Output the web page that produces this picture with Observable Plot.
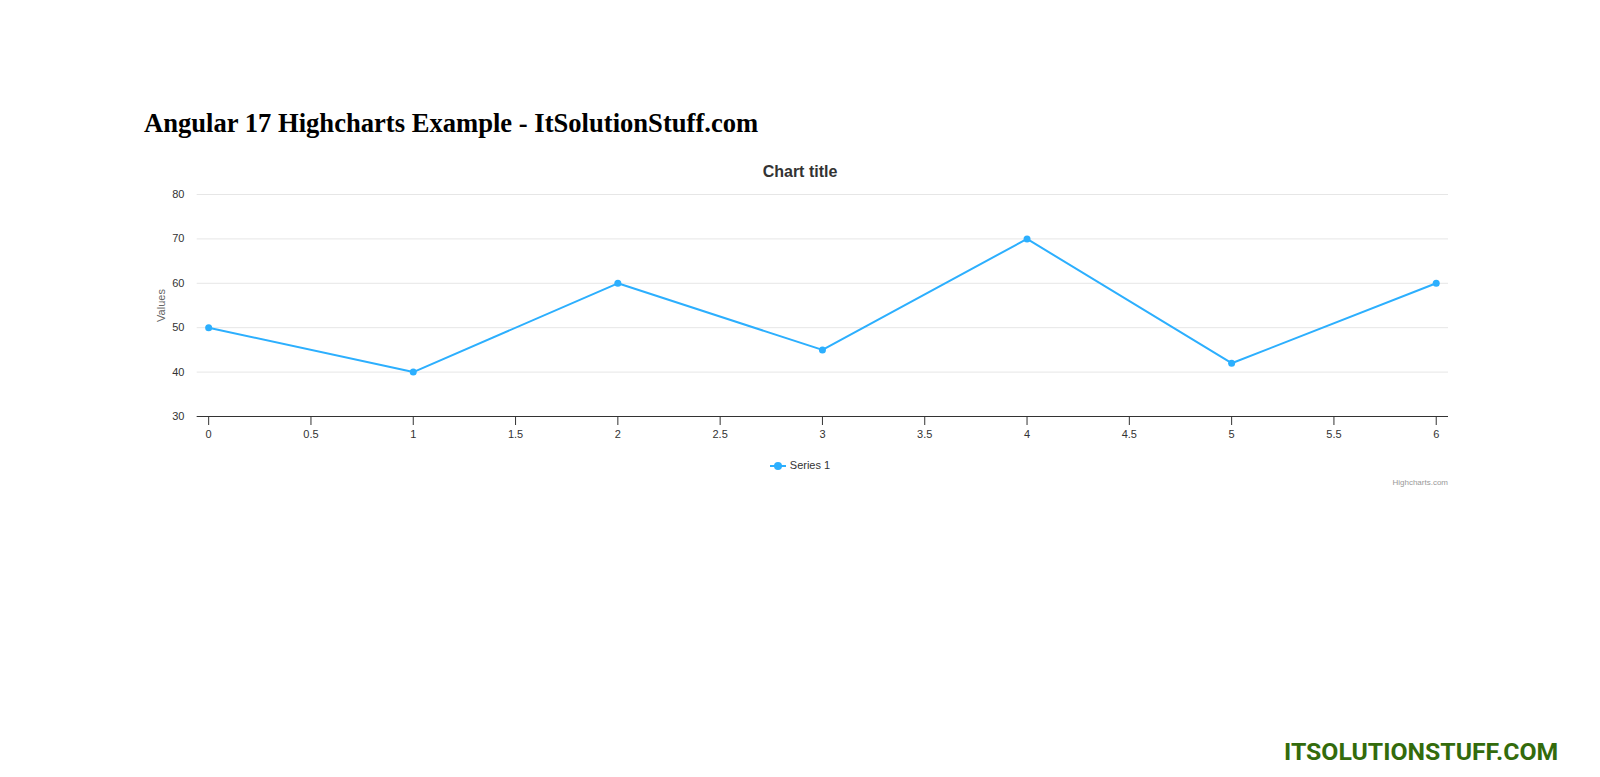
<!DOCTYPE html>
<html>
<head>
<meta charset="utf-8">
<script src="https://cdn.jsdelivr.net/npm/d3@7"></script>
<script src="https://cdn.jsdelivr.net/npm/@observablehq/plot@0.6"></script>
<style>
  html, body { margin: 0; padding: 0; background: #fff; width: 1600px; height: 777px; overflow: hidden; position: relative; }
  #heading { position: absolute; left: 144px; top: 108px; margin: 0; font-family: "Liberation Serif", "Times New Roman", serif; font-weight: bold; font-size: 26.6px; color: #000; white-space: nowrap; }
  #ctitle { position: absolute; left: 144px; width: 1312px; top: 163px; text-align: center; font-family: "Liberation Sans", Arial, Helvetica, sans-serif; font-weight: bold; font-size: 16px; color: #333333; }
  #chart { position: absolute; left: 144px; top: 184px; }
  #legend { position: absolute; left: 144px; width: 1312px; top: 459px; text-align: center; font-family: "Liberation Sans", Arial, sans-serif; font-size: 11px; color: #333333; }
  #legend svg { vertical-align: middle; margin-right: 4px; }
  #credits { position: absolute; right: 152px; top: 478px; font-family: "Liberation Sans", Arial, sans-serif; font-size: 8px; color: #999999; }
  #footer { position: absolute; left: 1284px; top: 737px; font-family: Roboto, sans-serif; font-weight: bold; font-size: 24.8px; color: #336b0c; white-space: nowrap; }
</style>
</head>
<body>
<h2 id="heading">Angular 17 Highcharts Example - ItSolutionStuff.com</h2>
<div id="ctitle">Chart title</div>
<div id="chart"></div>
<div id="legend"><svg width="16" height="10"><line x1="0" y1="5" x2="16" y2="5" stroke="#2caffe" stroke-width="2"/><circle cx="8" cy="5" r="4" fill="#2caffe"/></svg><span>Series 1</span></div>
<div id="credits">Highcharts.com</div>
<div id="footer">ITSOLUTIONSTUFF.COM</div>
<script>
const xValues = [0, 1, 2, 3, 4, 5, 6];
const series1 = [50, 40, 60, 45, 70, 42, 60];
const xTicks = [0, 0.5, 1, 1.5, 2, 2.5, 3, 3.5, 4, 4.5, 5, 5.5, 6];
const yTicks = [30, 40, 50, 60, 70, 80];
const seriesName = "Series 1";
const yLabel = "Values";

const data = xValues.map((x, i) => ({x, y: series1[i], series: seriesName}));
const color = "#2caffe";

const chart = Plot.plot({
  width: 1312,
  height: 262,
  marginLeft: 52.7,
  marginRight: 8,
  marginTop: 10,
  marginBottom: 30,
  style: { fontFamily: "'Liberation Sans', Arial, sans-serif", fontSize: "11px", color: "#333333", background: "#fff" },
  x: { domain: [-0.056, 6.06], ticks: xTicks, tickFormat: d => String(d) },
  y: { domain: [30, 80], ticks: yTicks },
  marks: [
    Plot.gridY(yTicks, { stroke: "#e6e6e6", strokeOpacity: 1, strokeWidth: 1 }),
    Plot.axisY({ ticks: yTicks, tickSize: 0, tickPadding: 12.7, label: null, fill: "#333333" }),
    Plot.text([yLabel], { frameAnchor: "left", dx: 16.7 - 52.7, rotate: -90, fill: "#666666", fontSize: 11, textAnchor: "middle" }),
    Plot.ruleY([30], { stroke: "#333333", strokeWidth: 1 }),
    Plot.axisX({ ticks: xTicks, tickSize: 9, tickPadding: 5, stroke: "#333333", label: null, fill: "#333333", tickFormat: d => String(d) }),
    Plot.line(data, { x: "x", y: "y", stroke: color, strokeWidth: 2 }),
    Plot.dot(data, { x: "x", y: "y", r: 3.5, fill: color, stroke: "none" })
  ]
});
document.getElementById("chart").appendChild(chart);
</script>
</body>
</html>
